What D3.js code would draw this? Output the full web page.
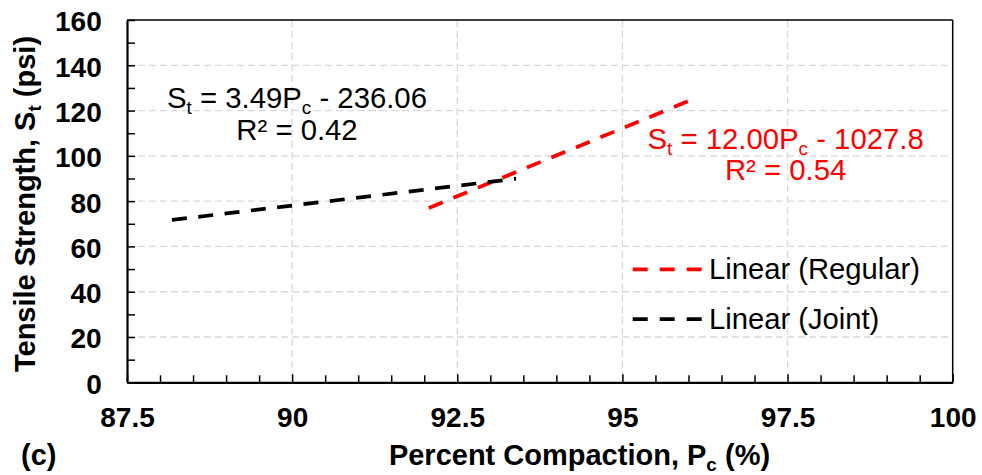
<!DOCTYPE html>
<html>
<head>
<meta charset="utf-8">
<script src="https://cdn.jsdelivr.net/npm/d3@7"></script>
<style>
  html, body { margin: 0; padding: 0; background: #fff; }
  svg { display: block; font-family: "Liberation Sans", Arial, sans-serif; }
</style>
</head>
<body>
<svg id="chart" width="982" height="475"></svg>
<script>
// ---- data ----
const xTicks = [87.5, 90, 92.5, 95, 97.5, 100];
const yTicks = [0, 20, 40, 60, 80, 100, 120, 140, 160];
const seriesNames = ["Linear (Regular)", "Linear (Joint)"];
const seriesColors = ["#ff0000", "#000000"];
// trendline end points
const regularX = [92.07, 96.1];
const regularY = [77.0, 125.4];
const jointX = [88.18, 93.39];
const jointY = [71.7, 89.9];
const regularEq = { lhs: "S", lhsSub: "t", mid: " = 12.00P", sub: "c", rhs: " - 1027.8", r2: "R² = 0.54" };
const jointEq = { lhs: "S", lhsSub: "t", mid: " = 3.49P", sub: "c", rhs: " - 236.06", r2: "R² = 0.42" };

// ---- layout ----
const svg = d3.select("#chart");
const L = 127, R = 952.7, T = 20, B = 382.3;
const x = d3.scaleLinear().domain([87.5, 100]).range([L, R]);
const y = d3.scaleLinear().domain([0, 160]).range([B, T]);

// gridlines
const grid = svg.append("g");
grid.selectAll("line.h").data(yTicks.filter(v => v > 0 && v < 160)).join("line")
  .attr("x1", L).attr("x2", R).attr("y1", d => y(d)).attr("y2", d => y(d))
  .attr("stroke", "#d9d9d9").attr("stroke-width", 1.3).attr("stroke-dasharray", "7,4");
grid.selectAll("line.v").data(xTicks.filter(v => v > 87.5 && v < 100)).join("line")
  .attr("y1", T).attr("y2", B).attr("x1", d => x(d)).attr("x2", d => x(d))
  .attr("stroke", "#d9d9d9").attr("stroke-width", 1.3).attr("stroke-dasharray", "7,4");

// frame (top/right)
svg.append("line").attr("x1", L).attr("x2", R).attr("y1", T).attr("y2", T).attr("stroke", "#000").attr("stroke-width", 1.5);
svg.append("line").attr("x1", R).attr("x2", R).attr("y1", T).attr("y2", B).attr("stroke", "#000").attr("stroke-width", 1.5);

// minor ticks
const xMinor = d3.range(88, 100, 0.5).filter(v => Math.abs(v / 2.5 - Math.round(v / 2.5)) > 1e-6);
const yMinor = d3.range(10, 160, 20);
svg.append("g").attr("transform", `translate(0,${B})`)
  .call(d3.axisBottom(x).tickValues(xMinor).tickSizeInner(-7).tickSizeOuter(0).tickFormat(""))
  .call(g => g.select(".domain").remove())
  .selectAll("line").attr("stroke", "#000").attr("stroke-width", 1.5);
svg.append("g").attr("transform", `translate(${L},0)`)
  .call(d3.axisLeft(y).tickValues(yMinor).tickSizeInner(-8).tickSizeOuter(0).tickFormat(""))
  .call(g => g.select(".domain").remove())
  .selectAll("line").attr("stroke", "#000").attr("stroke-width", 1.5);

// major axes
const xAxis = svg.append("g").attr("transform", `translate(0,${B})`)
  .call(d3.axisBottom(x).tickValues(xTicks).tickSizeInner(-8).tickSizeOuter(0).tickPadding(24.8)
    .tickFormat(d => String(d)));
const yAxis = svg.append("g").attr("transform", `translate(${L},0)`)
  .call(d3.axisLeft(y).tickValues(yTicks).tickSizeInner(-8).tickSizeOuter(0).tickPadding(25.3));
[xAxis, yAxis].forEach(a => {
  a.select(".domain").attr("stroke", "#000").attr("stroke-width", 2.2);
  a.selectAll(".tick line").attr("stroke", "#000").attr("stroke-width", 1.5);
  a.selectAll(".tick text").attr("fill", "#000").attr("font-size", 28).attr("font-weight", "bold")
    .attr("font-family", "Liberation Sans, Arial, sans-serif");
});
yAxis.selectAll(".tick text").attr("dy", "0.39em");

// trendlines
const line = d3.line().x(d => x(d[0])).y(d => y(d[1]));
const series = [
  { pts: d3.zip(regularX, regularY), color: seriesColors[0] },
  { pts: d3.zip(jointX, jointY), color: seriesColors[1] }
];
svg.append("g").selectAll("path").data(series).join("path")
  .attr("d", d => line(d.pts)).attr("fill", "none")
  .attr("stroke", d => d.color).attr("stroke-width", 3.75).attr("stroke-dasharray", "15,11.5");

// equations
function eq(e, cx, y1, y2, color) {
  const t = svg.append("text").attr("x", cx).attr("y", y1).attr("text-anchor", "middle")
    .attr("font-size", 29.3).attr("fill", color);
  t.append("tspan").text(e.lhs);
  t.append("tspan").attr("font-size", 19).attr("dy", 6).text(e.lhsSub);
  t.append("tspan").attr("dy", -6).text(e.mid);
  t.append("tspan").attr("font-size", 19).attr("dy", 6).text(e.sub);
  t.append("tspan").attr("dy", -6).text(e.rhs);
  svg.append("text").attr("x", cx).attr("y", y2).attr("text-anchor", "middle")
    .attr("font-size", 29.3).attr("fill", color).text(e.r2);
}
eq(jointEq, 297, 108.3, 140, "#000");
eq(regularEq, 785.6, 149, 180, "#ff0000");

// legend
const leg = svg.append("g");
const legY = [269.3, 319];
seriesNames.forEach((n, i) => {
  leg.append("line").attr("x1", 632.7).attr("x2", 703.4).attr("y1", legY[i]).attr("y2", legY[i])
    .attr("stroke", seriesColors[i]).attr("stroke-width", 3.75).attr("stroke-dasharray", "15,12");
  leg.append("text").attr("x", 709).attr("y", legY[i] + 9.5).attr("font-size", 29.2).attr("fill", "#000").text(n);
});

// axis titles
const xt = svg.append("text").attr("x", 579.5).attr("y", 465).attr("text-anchor", "middle")
  .attr("font-size", 29).attr("font-weight", "bold").attr("fill", "#000");
xt.append("tspan").text("Percent Compaction, P");
xt.append("tspan").attr("font-size", 19).attr("dy", 6).text("c");
xt.append("tspan").attr("dy", -6).text(" (%)");

const yt = svg.append("text").attr("transform", "translate(35,204) rotate(-90)").attr("text-anchor", "middle")
  .attr("font-size", 29).attr("font-weight", "bold").attr("fill", "#000");
yt.append("tspan").text("Tensile Strength, S");
yt.append("tspan").attr("font-size", 19).attr("dy", 6).text("t");
yt.append("tspan").attr("dy", -6).text(" (psi)");

svg.append("text").attr("x", 21).attr("y", 465).attr("font-size", 29).attr("font-weight", "bold")
  .attr("fill", "#000").text("(c)");
</script>
</body>
</html>
